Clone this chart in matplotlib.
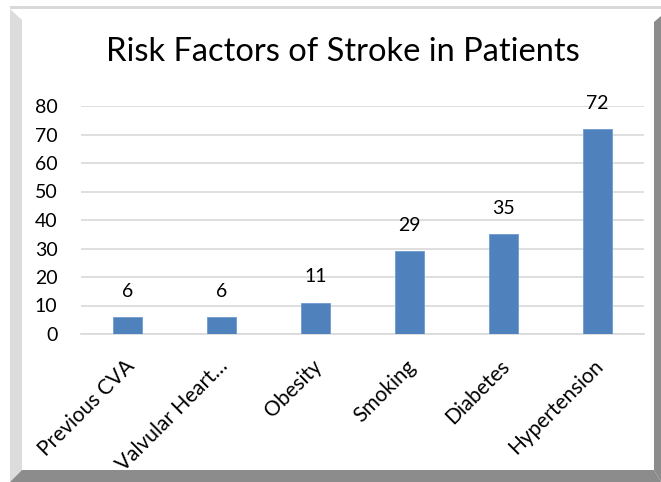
import matplotlib
matplotlib.use("Agg")
import matplotlib.pyplot as plt
from matplotlib.patches import Polygon
from matplotlib.transforms import ScaledTranslation

categories = ["Previous CVA", "Valvular Heart\u2026", "Obesity", "Smoking", "Diabetes", "Hypertension"]
values = [6, 6, 11, 29, 35, 72]
yticks = [0, 10, 20, 30, 40, 50, 60, 70, 80]

W, H = 661, 482
fig = plt.figure(figsize=(W / 100, H / 100), dpi=100)
fig.patch.set_facecolor("white")
plt.rcParams['font.family'] = ['Lato', 'DejaVu Sans']

def px(pts):
    return [(x / W, 1 - y / H) for x, y in pts]

# frame
fig.patches.append(Polygon(px([(10, 6), (661, 6), (661, 9), (10, 9)]), closed=True,
                           transform=fig.transFigure, facecolor="#d9d9d9", edgecolor="none"))
fig.patches.append(Polygon(px([(10, 9), (22, 20), (22, 470), (10, 482)]), closed=True,
                           transform=fig.transFigure, facecolor="#dcdcdc", edgecolor="none"))
fig.patches.append(Polygon(px([(654, 22), (661, 16), (661, 482), (654, 470)]), closed=True,
                           transform=fig.transFigure, facecolor="#8c8c8c", edgecolor="none"))
fig.patches.append(Polygon(px([(10, 482), (22, 470), (654, 470), (661, 482)]), closed=True,
                           transform=fig.transFigure, facecolor="#8c8c8c", edgecolor="none"))

ax = fig.add_axes([81 / W, 148 / H, (644 - 81) / W, (334 - 106) / H])
ax.set_facecolor("none")
x = list(range(len(categories)))
ax.bar(x, values, width=0.31, color="#4f81bd", edgecolor="#6f9bd0", linewidth=0.6, zorder=3)
ax.set_xlim(-0.5, len(categories) - 0.5)
ax.set_ylim(0, 80)
ax.set_yticks(yticks)
ax.set_yticklabels([str(v) for v in yticks], fontsize=14)
ax.set_xticks(x)
ax.set_xticklabels(categories, rotation=45, ha="right", rotation_mode="anchor", fontsize=15)
ax.tick_params(axis="both", length=0)
ax.tick_params(axis="y", pad=17)
ax.tick_params(axis="x", pad=16)
shift = ScaledTranslation(-4 / 100, 0, fig.dpi_scale_trans)
for lbl in ax.get_xticklabels():
    lbl.set_transform(lbl.get_transform() + shift)
ax.grid(axis="y", color="#d9d9d9", linewidth=1.2, zorder=0)
for s in ["top", "right", "left"]:
    ax.spines[s].set_visible(False)
ax.spines["bottom"].set_color("#d9d9d9")
ax.spines["bottom"].set_linewidth(1.2)

for xi, v in zip(x, values):
    ax.annotate(str(v), (xi, v), xytext=(0, 18.5), textcoords="offset points",
                ha="center", va="center", fontsize=14, clip_on=False)

fig.text(343 / W, 1 - 52 / H, "Risk Factors of Stroke in Patients", ha="center", va="center", fontsize=23.5)

fig.savefig("out.png", dpi=100)
